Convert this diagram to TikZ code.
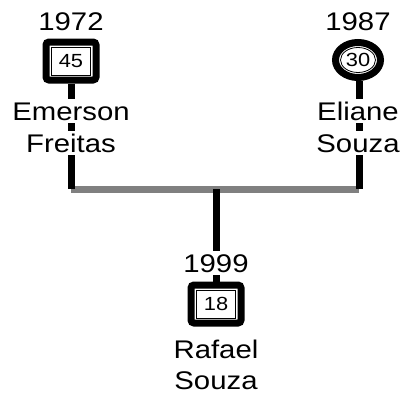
\documentclass[tikz,border=0pt]{standalone}
\usepackage{fontspec}
\setmainfont{Liberation Sans}[FakeStretch=1.15]
\usetikzlibrary{shapes.geometric,backgrounds}

\begin{document}
\begin{tikzpicture}[x=1pt,y=-1pt,
  lbl/.style={font=\fontsize{25.5}{30}\selectfont, fill=white, inner sep=0pt,
              text height=21pt, text depth=3pt, anchor=base},
  kin/.style={line width=7pt, black},
  couple/.style={line width=7pt, black!50},
  male/.style={draw, line width=7pt, rounded corners=3pt, fill=white,
               minimum width=50pt, minimum height=38pt, inner sep=0pt},
  female/.style={draw, ellipse, line width=7pt, fill=white,
                 minimum width=45pt, minimum height=35pt, inner sep=0pt},
  agebox/.style={draw, line width=0.8pt, minimum width=39pt, minimum height=28pt,
                 inner sep=0pt, font=\fontsize{19}{22}\selectfont},
  ageoval/.style={draw, ellipse, line width=0.8pt, minimum width=35pt, minimum height=25pt,
                  inner sep=0pt, font=\fontsize{19}{22}\selectfont}
]
\useasboundingbox (0,0) rectangle (409,394);

% father
\node[male] (em) at (71,61) {};
\node[agebox] (emage) at (em.center) {45};
\node[lbl] (emyear) at (71,30) {1972};
\node[lbl] (emn1) at (71,120) {Emerson};
\node[lbl] (emn2) at (71,152) {Freitas};

% mother
\node[female] (el) at (358,60) {};
\node[ageoval] (elage) at (el.center) {30};
\node[lbl] (elyear) at (358,30) {1987};
\node[lbl] (eln1) at (358,120) {Eliane};
\node[lbl] (eln2) at (358,152) {Souza};

% child
\node[male] (ra) at (216,304) {};
\node[agebox] (raage) at (ra.center) {18};
\node[lbl] (rayear) at (216,272) {1999};
\node[lbl] (ran1) at (216,358) {Rafael};
\node[lbl, text depth=1pt] (ran2) at (216,389) {Souza};

% couple line and descent lines, behind the labels
\coordinate (jl) at (71,189);
\coordinate (jr) at (359,189);
\coordinate (jc) at (216,189);
\begin{scope}[on background layer]
  \draw[couple] (jl) -- (jr);
  \draw[kin] (em.south) -- (jl);
  \draw[kin] (el.south -| jr) -- (jr);
  \draw[kin] (jc) -- (ra.north);
\end{scope}
\end{tikzpicture}
\end{document}
